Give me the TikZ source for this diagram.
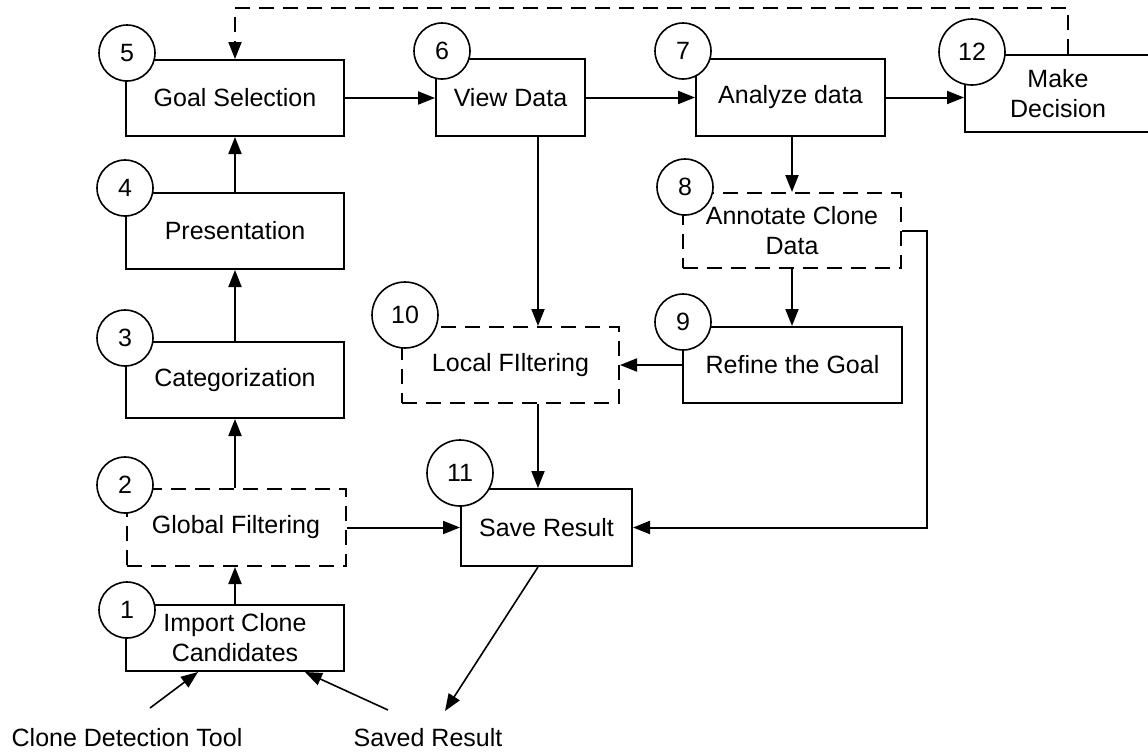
\documentclass[tikz,border=0pt]{standalone}
\usepackage{fontspec}
\setmainfont{Liberation Sans}
\usetikzlibrary{arrows.meta,calc}
\begin{document}
\begin{tikzpicture}[x=1pt,y=-1pt,
  line width=2pt,
  box/.style={draw, rectangle, inner sep=0pt, align=center,
    font=\fontsize{25}{30}\selectfont},
  dbox/.style={box, dash pattern=on 15pt off 9pt},
  num/.style={draw, circle, fill=white, inner sep=0pt, minimum size=56pt,
    line width=1.6pt, font=\fontsize{25}{25}\selectfont},
  bignum/.style={num, minimum size=66pt},
  arr/.style={-{Triangle[length=17pt,width=13pt]}},
  lbl/.style={inner sep=0pt, font=\fontsize{25}{30}\selectfont}]
\useasboundingbox (0,0) rectangle (1148,753);

% process steps
\node[box,  minimum width=218pt, minimum height=76pt] (b5)  at (235,98)    {Goal Selection};
\node[box,  minimum width=149pt, minimum height=77pt] (b6)  at (510.5,97.5) {View Data};
\node[box,  minimum width=189pt, minimum height=77pt] (b7)  at (790.5,97.5) {Analyze data};
\node[box,  minimum width=186pt, minimum height=77pt] (b12) at (1058,93.5) {Make\\Decision};
\node[box,  minimum width=218pt, minimum height=76pt] (b4)  at (235,231)   {Presentation};
\node[box,  minimum width=218pt, minimum height=76pt] (b3)  at (235,380)   {Categorization};
\node[dbox, minimum width=219pt, minimum height=77pt] (b2)  at (236,527.5) {Global Filtering};
\node[box,  minimum width=218pt, minimum height=66pt] (b1)  at (235,638)   {Import Clone\\Candidates};
\node[dbox, minimum width=218pt, minimum height=75pt] (b8)  at (792,230.5) {Annotate Clone\\Data};
\node[box,  minimum width=219pt, minimum height=76pt] (b9)  at (792.5,365)  {Refine the Goal};
\node[dbox, minimum width=217pt, minimum height=76pt] (b10) at (510.5,365)  {Local FIltering};
\node[box,  minimum width=171pt, minimum height=77pt] (b11) at (546.5,527.5) {Save Result};

% step numbers
\node[num]    (c5)  at (127,53)  {5};
\node[num]    (c6)  at (442,51)  {6};
\node[num]    (c7)  at (683,51)  {7};
\node[bignum] (c12) at (972,52)  {12};
\node[num]    (c4)  at (125,188) {4};
\node[num]    (c3)  at (125,338) {3};
\node[num]    (c2)  at (125,485) {2};
\node[num]    (c1)  at (127,610) {1};
\node[num]    (c8)  at (685,187) {8};
\node[num]    (c9)  at (683,322) {9};
\node[bignum] (c10) at (405,315) {10};
\node[bignum] (c11) at (460,473) {11};

% inputs
\node[lbl] (cdt) at (127,738) {Clone Detection Tool};
\node[lbl] (sr)  at (428,738) {Saved Result};

% helper points
\coordinate (vx) at (538,0);
\coordinate (rx) at (927,0);
\coordinate (fx) at (1068,8);
\coordinate (cdtend) at (150,708);
\coordinate (cdttip) at (198,0);
\coordinate (srend) at (388,710);
\coordinate (srtip) at (305,0);
\coordinate (outtip) at (445,711);

% main flow
\draw[arr] (b5.east) -- (b5.east -| b6.west);
\draw[arr] (b6.east) -- (b6.east -| b7.west);
\draw[arr] (b7.east) -- (b7.east -| b12.west);
\draw[arr] (b4.north) -- (b5.south);
\draw[arr] (b3.north) -- (b4.south);
\draw[arr] (b3.south |- b2.north) -- (b3.south);
\draw[arr] (b1.north) -- (b1.north |- b2.south);
\draw[arr] (b2.east) -- (b2.east -| b11.west);
\draw[arr] (b6.south -| vx) -- (b10.north -| vx);
\draw[arr] (b10.south -| vx) -- (b11.north -| vx);
\draw[arr] (b7.south -| b8.north) -- (b8.north);
\draw[arr] (b8.south) -- (b8.south |- b9.north);
\draw[arr] (b9.west) -- (b9.west -| b10.east);
\draw[arr] (b8.east) -- (b8.east -| rx) |- (b11.east);

% feedback from decision to goal selection
\draw[arr, dash pattern=on 15pt off 9pt] (b12.north -| fx) -- (fx) -| (b5.north);

% inputs and output
\draw[arr, line width=1.6pt] (cdtend) -- (b1.south -| cdttip);
\draw[arr, line width=1.6pt] (srend) -- (b1.south -| srtip);
\draw[arr, line width=1.6pt] (b11.south -| vx) -- (outtip);
\end{tikzpicture}
\end{document}
